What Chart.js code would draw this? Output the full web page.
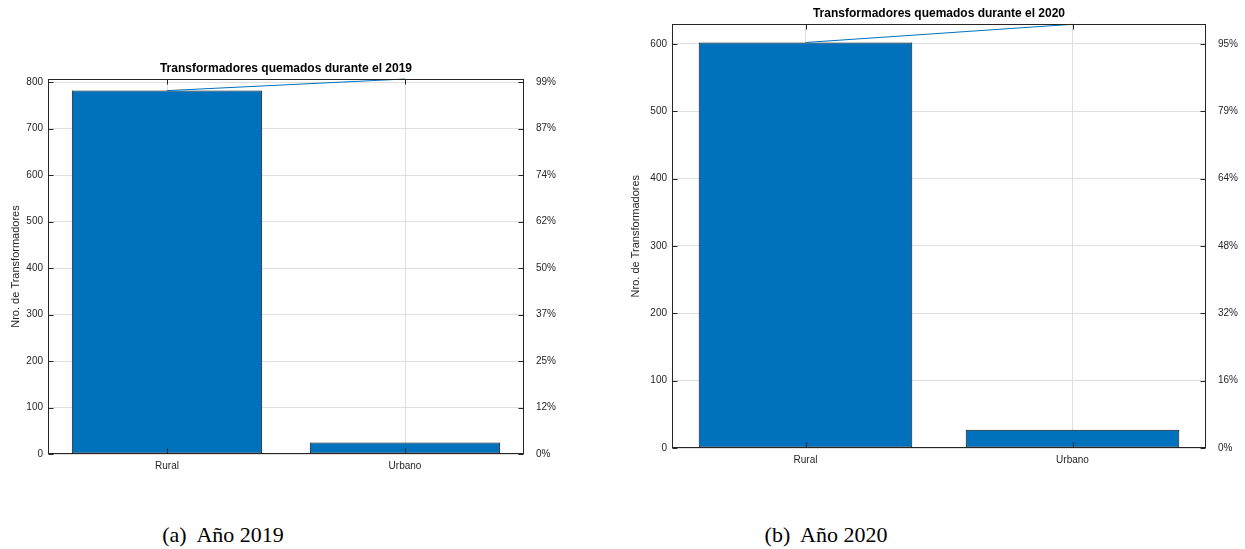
<!DOCTYPE html>
<html><head><meta charset="utf-8">
<script src="https://cdn.jsdelivr.net/npm/chart.js@4"></script>
<style>
html,body{margin:0;padding:0;background:#fff;overflow:hidden;width:1245px;height:549px;}
canvas{position:absolute;top:0;}
#c1{left:0;} #c2{left:620px;}
.cap{position:absolute;top:522px;width:300px;text-align:center;font-family:"Liberation Serif","Times New Roman",serif;font-size:22px;line-height:26px;color:#000;white-space:pre;}
#cap1{left:73px;} #cap2{left:676px;}
</style></head><body>
<canvas id="c1" width="600" height="480"></canvas>
<canvas id="c2" width="625" height="480"></canvas>
<div class="cap" id="cap1"></div>
<div class="cap" id="cap2"></div>
<script>
// ---- data ----
const categories = ['Rural', 'Urbano'];
const counts2019 = [782, 25];
const counts2020 = [602, 27];
const yTicks2019 = [0, 100, 200, 300, 400, 500, 600, 700, 800];
const yTicks2020 = [0, 100, 200, 300, 400, 500, 600];
const titles = ['Transformadores quemados durante el 2019', 'Transformadores quemados durante el 2020'];
const yAxisLabel = 'Nro. de Transformadores';
const captions = ['(a)  Año 2019', '(b)  Año 2020'];

document.getElementById('cap1').textContent = captions[0];
document.getElementById('cap2').textContent = captions[1];

Chart.defaults.font.family = '"Liberation Sans", Arial, Helvetica, sans-serif';
const AX = '#262626';
const GRID = '#dfdfdf';
const BLUE = '#0072BD';

const framePlugin = {
  id: 'frame',
  afterDatasetsDraw(chart) {
    const {ctx, chartArea: a, scales} = chart;
    const L = 5;
    ctx.save();
    ctx.strokeStyle = AX;
    ctx.lineWidth = 1;
    const l = Math.round(a.left) + 0.5, r = Math.round(a.right) - 0.5;
    const t = Math.round(a.top) + 0.5, b = Math.round(a.bottom) - 0.5;
    ctx.strokeRect(l, t, r - l, b - t);
    ctx.beginPath();
    scales.y.ticks.forEach((tk, i) => {
      const py = Math.round(scales.y.getPixelForTick(i)) + 0.5;
      ctx.moveTo(l, py); ctx.lineTo(l + L, py);
      ctx.moveTo(r, py); ctx.lineTo(r - L, py);
    });
    scales.x.ticks.forEach((tk, i) => {
      const px = Math.round(scales.x.getPixelForTick(i)) + 0.5;
      ctx.moveTo(px, b); ctx.lineTo(px, b - L);
      ctx.moveTo(px, t); ctx.lineTo(px, t + L);
    });
    ctx.stroke();
    ctx.restore();
  }
};

function cumsum(arr) { let s = 0; return arr.map(v => (s += v)); }

function makePareto(canvasId, counts, tickVals, title, lay) {
  const cum = cumsum(counts);
  const total = cum[cum.length - 1];
  const setTicks = s => { s.ticks = tickVals.map(v => ({ value: v })); };
  new Chart(document.getElementById(canvasId), {
    type: 'bar',
    data: {
      labels: categories,
      datasets: [
        {
          type: 'line', data: cum, yAxisID: 'y', borderColor: BLUE, borderWidth: 1,
          pointRadius: 0, tension: 0, clip: false, order: 0, fill: false
        },
        {
          type: 'bar', data: counts, yAxisID: 'y', backgroundColor: BLUE, borderColor: '#111111',
          borderWidth: 1, borderSkipped: false, barPercentage: 0.8, categoryPercentage: 1, order: 1
        }
      ]
    },
    options: {
      responsive: false, animation: false, devicePixelRatio: 1,
      layout: { padding: 0 },
      plugins: {
        legend: { display: false }, tooltip: { enabled: false },
        title: {
          display: true, text: title, fullSize: false, color: '#000',
          font: { size: 12, weight: 'bold' }, padding: { top: lay.titleTop, bottom: 3 }
        }
      },
      scales: {
        x: {
          type: 'category', offset: true,
          grid: { offset: false, color: GRID, drawTicks: false },
          border: { display: false },
          ticks: { color: AX, font: { size: 10 }, padding: 6 },
          afterFit(s) { s.height = lay.xH; }
        },
        y: {
          position: 'left', min: 0, max: total,
          afterBuildTicks: setTicks,
          ticks: { color: AX, font: { size: 10 }, padding: 5 },
          grid: { color: GRID, drawTicks: false },
          border: { display: false },
          title: { display: true, text: yAxisLabel, color: AX, font: { size: 11 }, padding: { top: 9, bottom: 0 } },
          afterFit(s) { s.width = lay.yW; }
        },
        y2: {
          position: 'right', min: 0, max: total,
          afterBuildTicks: setTicks,
          ticks: {
            color: AX, font: { size: 10 }, padding: 4,
            callback: v => Math.round(v / total * 100) + '%'
          },
          grid: { display: false },
          border: { display: false },
          afterFit(s) { s.width = lay.y2W; }
        }
      }
    },
    plugins: [framePlugin]
  });
}

makePareto('c1', counts2019, yTicks2019, titles[0], { yW: 48, y2W: 76, xH: 26, titleTop: 61.6 });
makePareto('c2', counts2020, yTicks2020, titles[1], { yW: 52, y2W: 39, xH: 32, titleTop: 6.9 });
</script>
</body></html>
